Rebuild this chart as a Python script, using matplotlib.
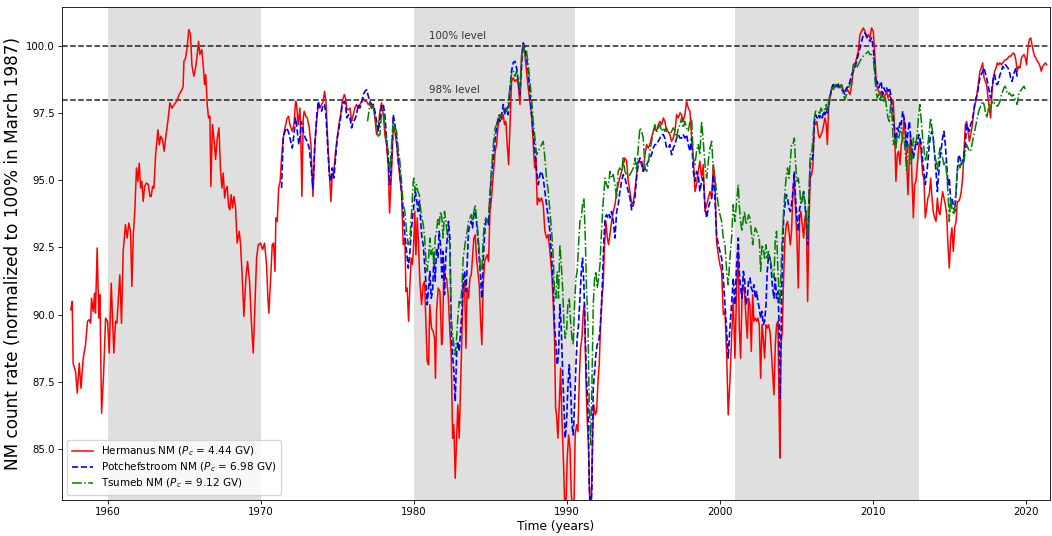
import numpy as np
import matplotlib
matplotlib.use("Agg")
import matplotlib.pyplot as plt

# === Neutron monitor count rates, normalised to 100% in March 1987 ===
# (year, percent)

hermanus = [
    (1957.58, 90.18), (1957.67, 90.49), (1957.73, 88.19), (1957.89, 87.88), (1958.00, 87.08),
    (1958.13, 88.19), (1958.24, 87.26), (1958.39, 88.38), (1958.54, 88.88), (1958.67, 89.75),
    (1958.78, 89.81), (1958.87, 89.68), (1958.93, 90.61), (1959.04, 90.12), (1959.13, 90.80),
    (1959.19, 90.06), (1959.30, 92.48), (1959.41, 89.87), (1959.48, 90.74), (1959.59, 86.33),
    (1959.72, 87.76), (1959.85, 89.87), (1959.98, 89.75), (1960.09, 88.57), (1960.22, 91.17),
    (1960.39, 88.57), (1960.50, 89.75), (1960.59, 89.68), (1960.70, 90.74), (1960.78, 91.48),
    (1960.89, 89.68), (1961.00, 92.35), (1961.15, 93.35), (1961.26, 92.85), (1961.37, 93.41),
    (1961.48, 93.10), (1961.57, 91.05), (1961.66, 92.97), (1961.76, 93.84), (1961.87, 95.46),
    (1961.96, 94.96), (1962.05, 95.64), (1962.14, 94.71), (1962.22, 94.96), (1962.31, 94.21),
    (1962.40, 94.77), (1962.53, 94.90), (1962.64, 94.84), (1962.75, 94.40), (1962.83, 94.40),
    (1962.92, 94.77), (1963.01, 94.71), (1963.12, 95.95), (1963.27, 96.88), (1963.36, 96.32),
    (1963.46, 96.64), (1963.57, 96.51), (1963.68, 96.08), (1963.79, 96.64), (1963.92, 97.19),
    (1964.05, 97.88), (1964.18, 97.68), (1964.34, 97.82), (1964.49, 97.94), (1964.66, 98.19),
    (1964.84, 98.37), (1964.92, 98.50), (1964.97, 99.43), (1965.08, 99.55), (1965.19, 99.99),
    (1965.29, 100.61), (1965.40, 100.42), (1965.49, 99.30), (1965.62, 98.87), (1965.75, 99.24),
    (1965.93, 100.17), (1966.01, 99.68), (1966.14, 99.86), (1966.23, 99.30), (1966.32, 98.56),
    (1966.40, 98.93), (1966.49, 97.82), (1966.58, 97.32), (1966.67, 97.38), (1966.73, 94.77),
    (1966.84, 97.07), (1966.95, 96.45), (1967.04, 95.77), (1967.15, 96.57), (1967.26, 96.95),
    (1967.36, 95.39), (1967.45, 94.71), (1967.54, 95.27), (1967.63, 94.34), (1967.71, 94.65),
    (1967.80, 94.77), (1967.89, 94.03), (1967.97, 93.90), (1968.06, 94.46), (1968.15, 93.97),
    (1968.24, 94.40), (1968.34, 94.03), (1968.45, 92.66), (1968.59, 93.10), (1968.67, 92.60),
    (1968.78, 91.42), (1968.89, 89.93), (1969.02, 91.36), (1969.13, 91.98), (1969.26, 91.24),
    (1969.39, 89.62), (1969.50, 88.57), (1969.61, 90.37), (1969.72, 92.11), (1969.83, 92.60),
    (1969.98, 92.66), (1970.11, 92.42), (1970.24, 92.66), (1970.37, 91.86), (1970.46, 90.61),
    (1970.52, 90.06), (1970.63, 91.24), (1970.74, 92.60), (1970.83, 92.66), (1970.92, 91.61),
    (1970.98, 93.60), (1971.07, 93.47), (1971.16, 94.71), (1971.26, 94.96), (1971.35, 95.83),
    (1971.46, 96.57), (1971.57, 96.95), (1971.72, 97.32), (1971.81, 97.38), (1971.90, 97.07),
    (1972.05, 96.82), (1972.16, 97.07), (1972.27, 97.94), (1972.33, 97.82), (1972.44, 97.07),
    (1972.55, 97.69), (1972.61, 96.57), (1972.68, 94.40), (1972.77, 97.32), (1972.83, 97.57),
    (1972.94, 97.38), (1973.03, 97.32), (1973.16, 96.95), (1973.27, 96.33), (1973.40, 94.40),
    (1973.53, 96.33), (1973.64, 97.19), (1973.75, 97.82), (1973.86, 97.69), (1973.97, 97.82),
    (1974.07, 97.94), (1974.16, 98.31), (1974.25, 97.94), (1974.36, 96.57), (1974.47, 95.33),
    (1974.58, 94.21), (1974.66, 95.21), (1974.77, 95.33), (1974.88, 96.08), (1974.99, 96.57),
    (1975.10, 97.07), (1975.21, 97.44), (1975.32, 97.94), (1975.45, 98.19), (1975.53, 98.06),
    (1975.62, 97.63), (1975.73, 97.63), (1975.82, 97.69), (1975.93, 97.19), (1976.04, 97.44),
    (1976.14, 97.69), (1976.25, 97.82), (1976.36, 97.69), (1976.47, 97.82), (1976.58, 97.94),
    (1976.69, 98.06), (1976.80, 97.94), (1976.91, 97.94), (1977.02, 97.82), (1977.12, 97.88),
    (1977.23, 97.69), (1977.34, 97.82), (1977.45, 97.32), (1977.56, 96.70), (1977.67, 96.95),
    (1977.78, 97.57), (1977.89, 97.88), (1978.00, 97.44), (1978.10, 96.70), (1978.21, 96.33),
    (1978.32, 95.58), (1978.41, 93.78), (1978.54, 95.33), (1978.65, 96.95), (1978.76, 96.82),
    (1978.87, 96.33), (1978.97, 95.83), (1979.08, 95.08), (1979.19, 94.58), (1979.30, 92.60),
    (1979.41, 92.85), (1979.48, 90.86), (1979.56, 90.99), (1979.65, 89.75), (1979.74, 91.11),
    (1979.82, 92.10), (1979.91, 91.86), (1980.00, 92.85), (1980.06, 93.84), (1980.13, 92.23),
    (1980.22, 93.60), (1980.30, 92.60), (1980.39, 91.24), (1980.50, 90.37), (1980.61, 91.11),
    (1980.70, 91.24), (1980.78, 89.75), (1980.87, 88.26), (1980.96, 88.13), (1981.04, 90.37),
    (1981.15, 89.50), (1981.26, 89.37), (1981.35, 89.12), (1981.41, 87.63), (1981.48, 90.12),
    (1981.59, 90.99), (1981.70, 90.86), (1981.81, 88.88), (1981.87, 89.12), (1981.96, 91.86),
    (1982.05, 91.36), (1982.13, 91.36), (1982.24, 90.74), (1982.35, 89.37), (1982.44, 88.50),
    (1982.53, 85.40), (1982.61, 85.90), (1982.70, 83.91), (1982.79, 85.40), (1982.87, 86.64),
    (1982.96, 85.40), (1983.05, 87.38), (1983.14, 89.50), (1983.22, 90.99), (1983.31, 91.24),
    (1983.40, 88.75), (1983.48, 90.99), (1983.57, 90.61), (1983.66, 91.36), (1983.75, 91.48),
    (1983.83, 92.10), (1983.92, 92.85), (1984.01, 92.97), (1984.09, 92.10), (1984.18, 91.61),
    (1984.27, 91.11), (1984.36, 89.75), (1984.44, 88.88), (1984.53, 91.11), (1984.62, 91.98),
    (1984.70, 92.10), (1984.79, 92.23), (1984.88, 91.98), (1984.97, 93.84), (1985.05, 94.21),
    (1985.14, 94.84), (1985.23, 95.46), (1985.31, 96.08), (1985.40, 96.33), (1985.49, 96.95),
    (1985.58, 97.32), (1985.66, 97.44), (1985.75, 97.26), (1985.84, 97.44), (1985.92, 97.07),
    (1986.01, 97.19), (1986.10, 96.33), (1986.19, 95.58), (1986.38, 98.68), (1986.49, 98.81),
    (1986.60, 98.68), (1986.71, 98.75), (1986.82, 98.56), (1986.93, 97.82), (1987.04, 99.68),
    (1987.15, 100.11), (1987.25, 99.68), (1987.36, 99.06), (1987.47, 98.44), (1987.58, 97.94),
    (1987.69, 97.44), (1987.80, 96.33), (1987.89, 95.46), (1987.97, 95.83), (1988.06, 94.09),
    (1988.15, 94.34), (1988.23, 94.21), (1988.34, 94.34), (1988.45, 94.09), (1988.56, 93.10),
    (1988.67, 92.85), (1988.78, 92.97), (1988.89, 92.35), (1989.00, 91.61), (1989.11, 90.37),
    (1989.19, 89.12), (1989.26, 86.52), (1989.32, 86.27), (1989.41, 85.40), (1989.50, 86.64),
    (1989.59, 88.01), (1989.67, 86.15), (1989.76, 84.78), (1989.85, 83.04), (1989.93, 82.70),
    (1990.02, 84.66), (1990.11, 85.52), (1990.20, 85.03), (1990.28, 83.41), (1990.37, 82.70),
    (1990.46, 82.70), (1990.54, 85.52), (1990.63, 85.90), (1990.72, 85.65), (1990.81, 87.63),
    (1990.89, 88.75), (1990.98, 89.12), (1991.07, 90.12), (1991.15, 90.37), (1991.24, 87.63),
    (1991.33, 86.02), (1991.41, 85.15), (1991.50, 82.70), (1991.59, 82.70), (1991.68, 85.65),
    (1991.76, 86.64), (1991.85, 86.27), (1991.94, 86.40), (1992.03, 87.51), (1992.11, 88.13),
    (1992.20, 89.62), (1992.29, 90.61), (1992.37, 91.11), (1992.46, 92.60), (1992.55, 93.47),
    (1992.64, 92.85), (1992.72, 92.60), (1992.81, 92.97), (1992.92, 93.47), (1993.03, 93.84),
    (1993.14, 94.09), (1993.25, 94.58), (1993.35, 94.84), (1993.46, 95.08), (1993.57, 95.33),
    (1993.68, 95.58), (1993.79, 95.83), (1993.90, 95.71), (1994.01, 94.96), (1994.12, 94.58),
    (1994.23, 94.09), (1994.34, 94.21), (1994.44, 94.58), (1994.55, 95.21), (1994.66, 95.71),
    (1994.77, 95.71), (1994.88, 95.58), (1994.99, 95.33), (1995.10, 95.95), (1995.21, 96.33),
    (1995.32, 96.20), (1995.42, 96.33), (1995.53, 96.57), (1995.64, 96.82), (1995.75, 96.95),
    (1995.86, 96.82), (1995.97, 97.07), (1996.08, 97.19), (1996.19, 97.07), (1996.30, 97.32),
    (1996.40, 97.19), (1996.51, 96.82), (1996.62, 96.82), (1996.73, 96.70), (1996.84, 96.45),
    (1996.95, 96.57), (1997.06, 96.82), (1997.17, 97.44), (1997.28, 97.32), (1997.39, 97.51),
    (1997.49, 97.44), (1997.60, 97.19), (1997.71, 97.44), (1997.82, 97.94), (1997.93, 97.69),
    (1998.04, 97.57), (1998.15, 96.57), (1998.26, 95.83), (1998.37, 94.58), (1998.47, 94.84),
    (1998.58, 95.33), (1998.69, 95.71), (1998.80, 95.08), (1998.91, 95.58), (1999.02, 93.84),
    (1999.13, 94.09), (1999.24, 94.34), (1999.35, 94.58), (1999.46, 94.34), (1999.57, 95.58),
    (1999.67, 95.08), (1999.78, 92.72), (1999.89, 92.23), (2000.00, 91.86), (2000.11, 91.61),
    (2000.22, 90.00), (2000.33, 90.12), (2000.44, 88.50), (2000.54, 86.27), (2000.65, 87.51),
    (2000.76, 89.12), (2000.87, 90.61), (2000.98, 88.38), (2001.09, 90.99), (2001.20, 92.35),
    (2001.26, 89.62), (2001.35, 88.38), (2001.44, 90.61), (2001.53, 91.11), (2001.61, 90.86),
    (2001.70, 89.87), (2001.79, 89.12), (2001.87, 90.61), (2001.96, 90.37), (2002.05, 88.63),
    (2002.14, 90.74), (2002.22, 89.75), (2002.31, 89.87), (2002.40, 89.75), (2002.48, 89.87),
    (2002.57, 89.62), (2002.66, 87.63), (2002.75, 89.62), (2002.83, 89.12), (2002.92, 88.38),
    (2003.01, 89.62), (2003.09, 89.50), (2003.18, 89.62), (2003.27, 89.37), (2003.36, 88.63),
    (2003.44, 87.88), (2003.53, 87.01), (2003.62, 88.88), (2003.70, 89.62), (2003.79, 89.75),
    (2003.86, 86.64), (2003.92, 84.66), (2003.99, 88.88), (2004.07, 89.37), (2004.16, 91.36),
    (2004.25, 92.85), (2004.34, 93.35), (2004.42, 93.47), (2004.51, 93.10), (2004.60, 92.60),
    (2004.68, 93.10), (2004.77, 94.58), (2004.86, 95.08), (2004.95, 93.84), (2005.03, 92.85),
    (2005.12, 90.99), (2005.21, 93.60), (2005.29, 93.84), (2005.38, 93.35), (2005.47, 92.85),
    (2005.56, 93.60), (2005.64, 93.84), (2005.73, 90.49), (2005.82, 93.47), (2005.90, 95.08),
    (2005.99, 95.21), (2006.08, 95.58), (2006.17, 97.19), (2006.25, 97.07), (2006.34, 97.19),
    (2006.43, 96.70), (2006.51, 96.57), (2006.60, 96.70), (2006.69, 96.82), (2006.78, 97.07),
    (2006.86, 97.32), (2006.95, 97.07), (2007.02, 96.33), (2007.10, 97.69), (2007.19, 98.06),
    (2007.30, 98.44), (2007.41, 98.56), (2007.52, 98.44), (2007.63, 98.56), (2007.73, 98.44),
    (2007.84, 98.50), (2007.95, 98.56), (2008.06, 98.37), (2008.17, 98.31), (2008.28, 98.44),
    (2008.39, 98.31), (2008.50, 98.19), (2008.61, 98.56), (2008.71, 99.06), (2008.82, 99.30),
    (2008.93, 99.55), (2009.04, 99.80), (2009.15, 100.42), (2009.26, 100.55), (2009.37, 100.67),
    (2009.48, 100.55), (2009.59, 100.30), (2009.70, 100.42), (2009.80, 100.30), (2009.91, 100.67),
    (2010.02, 100.55), (2010.11, 99.80), (2010.20, 98.81), (2010.28, 98.44), (2010.37, 98.31),
    (2010.46, 98.19), (2010.54, 98.31), (2010.63, 98.19), (2010.72, 98.06), (2010.81, 98.19),
    (2010.89, 98.31), (2010.98, 98.06), (2011.07, 98.19), (2011.16, 98.06), (2011.24, 97.82),
    (2011.33, 97.94), (2011.42, 96.70), (2011.50, 94.96), (2011.59, 95.95), (2011.68, 96.08),
    (2011.77, 95.58), (2011.85, 96.33), (2011.94, 96.57), (2012.03, 97.32), (2012.11, 96.70),
    (2012.20, 95.71), (2012.29, 94.46), (2012.38, 95.95), (2012.46, 96.70), (2012.55, 95.08),
    (2012.64, 93.60), (2012.72, 94.84), (2012.81, 94.96), (2012.90, 95.58), (2012.99, 96.20),
    (2013.07, 96.57), (2013.16, 95.95), (2013.25, 95.21), (2013.33, 95.08), (2013.42, 93.60),
    (2013.51, 93.97), (2013.59, 94.34), (2013.68, 94.46), (2013.77, 95.08), (2013.86, 94.34),
    (2013.94, 93.84), (2014.03, 93.60), (2014.12, 93.47), (2014.21, 94.34), (2014.29, 93.84),
    (2014.38, 93.72), (2014.47, 94.21), (2014.55, 94.58), (2014.64, 94.34), (2014.73, 94.09),
    (2014.82, 93.72), (2014.90, 92.60), (2014.99, 91.73), (2015.08, 92.85), (2015.16, 93.23),
    (2015.25, 92.35), (2015.34, 93.23), (2015.43, 93.47), (2015.51, 94.21), (2015.60, 94.21),
    (2015.69, 94.34), (2015.77, 94.58), (2015.86, 95.08), (2015.95, 96.08), (2016.04, 97.07),
    (2016.12, 97.19), (2016.21, 96.82), (2016.30, 96.45), (2016.38, 96.70), (2016.47, 96.95),
    (2016.56, 97.44), (2016.65, 97.82), (2016.73, 97.94), (2016.82, 98.31), (2016.91, 98.68),
    (2016.99, 99.06), (2017.08, 99.18), (2017.17, 99.37), (2017.26, 98.81), (2017.34, 98.68),
    (2017.43, 98.56), (2017.52, 98.06), (2017.60, 97.69), (2017.69, 97.32), (2017.78, 98.31),
    (2017.87, 98.81), (2017.95, 99.06), (2018.04, 99.18), (2018.13, 99.37), (2018.21, 99.30),
    (2018.30, 99.37), (2018.39, 99.30), (2018.48, 99.37), (2018.56, 99.43), (2018.65, 99.49),
    (2018.74, 99.49), (2018.82, 99.55), (2018.91, 99.62), (2019.00, 99.62), (2019.09, 99.68),
    (2019.17, 99.74), (2019.26, 99.68), (2019.35, 99.43), (2019.43, 99.06), (2019.52, 99.24),
    (2019.61, 99.18), (2019.70, 99.55), (2019.78, 99.62), (2019.87, 99.68), (2019.96, 99.55),
    (2020.04, 99.30), (2020.13, 99.93), (2020.22, 100.24), (2020.31, 100.30), (2020.39, 100.05),
    (2020.48, 99.80), (2020.57, 99.62), (2020.65, 99.55), (2020.74, 99.43), (2020.83, 99.37),
    (2020.92, 99.24), (2021.00, 99.06), (2021.09, 99.24), (2021.18, 99.30), (2021.26, 99.37),
    (2021.35, 99.30),
]

potchefstroom = [
    (1971.35, 94.71), (1971.46, 96.57), (1971.57, 96.82), (1971.68, 96.95), (1971.79, 96.82),
    (1971.90, 96.57), (1972.05, 96.20), (1972.16, 96.70), (1972.27, 97.32), (1972.38, 96.82),
    (1972.48, 96.33), (1972.55, 96.57), (1972.64, 97.19), (1972.77, 96.82), (1972.90, 96.57),
    (1973.03, 96.45), (1973.16, 96.20), (1973.29, 95.46), (1973.40, 94.71), (1973.51, 96.20),
    (1973.64, 97.32), (1973.75, 97.94), (1973.86, 97.69), (1973.97, 97.57), (1974.07, 97.82),
    (1974.16, 97.82), (1974.25, 97.44), (1974.36, 96.33), (1974.47, 95.21), (1974.58, 94.96),
    (1974.66, 95.46), (1974.77, 95.08), (1974.88, 95.83), (1974.99, 96.57), (1975.10, 96.95),
    (1975.21, 97.32), (1975.32, 97.82), (1975.45, 97.94), (1975.53, 97.82), (1975.62, 97.32),
    (1975.73, 97.44), (1975.82, 97.32), (1975.93, 96.95), (1976.04, 97.19), (1976.14, 97.26),
    (1976.25, 97.44), (1976.36, 97.82), (1976.47, 97.69), (1976.58, 97.88), (1976.69, 98.19),
    (1976.80, 98.31), (1976.91, 98.37), (1977.02, 98.13), (1977.12, 97.94), (1977.23, 97.82),
    (1977.34, 97.82), (1977.45, 97.57), (1977.56, 97.19), (1977.67, 96.82), (1977.78, 97.26),
    (1977.89, 97.82), (1978.00, 97.82), (1978.10, 97.44), (1978.21, 96.57), (1978.32, 95.70),
    (1978.43, 94.84), (1978.54, 95.70), (1978.65, 97.44), (1978.76, 97.07), (1978.87, 96.57),
    (1978.97, 95.70), (1979.08, 95.33), (1979.19, 94.58), (1979.30, 93.84), (1979.41, 92.97),
    (1979.52, 92.35), (1979.63, 91.73), (1979.74, 92.35), (1979.82, 93.10), (1979.91, 93.60),
    (1980.00, 94.09), (1980.09, 94.58), (1980.17, 94.34), (1980.26, 93.84), (1980.35, 94.21),
    (1980.43, 93.60), (1980.52, 92.85), (1980.61, 92.60), (1980.70, 91.86), (1980.78, 91.24),
    (1980.87, 90.37), (1980.96, 90.99), (1981.04, 91.61), (1981.13, 90.61), (1981.22, 90.86),
    (1981.31, 92.23), (1981.39, 91.24), (1981.48, 92.48), (1981.57, 92.10), (1981.65, 93.10),
    (1981.74, 92.60), (1981.83, 91.36), (1981.91, 92.35), (1982.00, 90.74), (1982.09, 92.23),
    (1982.18, 92.85), (1982.26, 93.47), (1982.35, 92.85), (1982.44, 89.37), (1982.53, 88.50),
    (1982.61, 87.88), (1982.70, 86.77), (1982.79, 88.50), (1982.87, 89.00), (1982.96, 88.63),
    (1983.05, 89.37), (1983.14, 90.12), (1983.22, 91.24), (1983.31, 91.61), (1983.40, 90.86),
    (1983.48, 91.86), (1983.57, 93.10), (1983.66, 93.35), (1983.75, 93.47), (1983.83, 93.23),
    (1983.92, 93.72), (1984.01, 93.84), (1984.09, 93.47), (1984.18, 92.85), (1984.27, 92.10),
    (1984.36, 91.36), (1984.44, 90.61), (1984.53, 91.98), (1984.62, 92.97), (1984.70, 93.47),
    (1984.79, 93.60), (1984.88, 93.35), (1984.97, 94.34), (1985.05, 95.08), (1985.14, 95.58),
    (1985.23, 96.08), (1985.31, 96.57), (1985.40, 96.95), (1985.49, 97.26), (1985.58, 97.38),
    (1985.62, 97.19), (1985.73, 97.44), (1985.84, 97.82), (1985.95, 97.44), (1986.06, 97.69),
    (1986.16, 97.44), (1986.27, 98.31), (1986.38, 99.06), (1986.49, 99.37), (1986.60, 99.43),
    (1986.71, 99.18), (1986.82, 98.68), (1986.93, 98.19), (1987.04, 99.30), (1987.15, 100.11),
    (1987.25, 99.93), (1987.36, 99.55), (1987.47, 99.06), (1987.58, 98.19), (1987.69, 97.44),
    (1987.80, 96.82), (1987.91, 96.08), (1988.02, 95.33), (1988.13, 94.84), (1988.23, 95.21),
    (1988.34, 95.33), (1988.45, 95.08), (1988.56, 94.58), (1988.67, 94.09), (1988.78, 93.60),
    (1988.89, 93.10), (1989.00, 92.10), (1989.11, 90.99), (1989.19, 89.62), (1989.28, 88.88),
    (1989.37, 88.13), (1989.45, 88.50), (1989.54, 90.37), (1989.63, 89.50), (1989.72, 87.88),
    (1989.80, 86.64), (1989.89, 85.40), (1989.98, 86.02), (1990.06, 87.26), (1990.15, 88.13),
    (1990.24, 87.26), (1990.33, 85.90), (1990.41, 85.52), (1990.50, 86.64), (1990.59, 88.13),
    (1990.67, 89.12), (1990.76, 89.62), (1990.85, 90.61), (1990.94, 91.61), (1991.02, 92.10),
    (1991.11, 91.11), (1991.20, 89.12), (1991.28, 87.63), (1991.37, 86.64), (1991.46, 83.66),
    (1991.55, 82.70), (1991.63, 83.54), (1991.72, 87.26), (1991.81, 87.88), (1991.89, 88.50),
    (1991.98, 88.88), (1992.07, 89.00), (1992.16, 89.37), (1992.24, 90.12), (1992.33, 91.36),
    (1992.42, 92.85), (1992.50, 93.60), (1992.59, 93.72), (1992.68, 93.60), (1992.77, 93.72),
    (1992.81, 93.60), (1992.92, 93.84), (1993.03, 93.47), (1993.14, 92.85), (1993.25, 93.84),
    (1993.35, 94.09), (1993.46, 94.58), (1993.57, 94.96), (1993.68, 95.21), (1993.79, 95.08),
    (1993.90, 94.84), (1994.01, 94.58), (1994.12, 94.34), (1994.23, 93.90), (1994.34, 94.09),
    (1994.44, 94.34), (1994.55, 95.08), (1994.66, 95.58), (1994.77, 95.83), (1994.88, 95.70),
    (1994.99, 95.33), (1995.10, 95.46), (1995.21, 95.58), (1995.32, 95.70), (1995.42, 95.83),
    (1995.53, 95.95), (1995.64, 96.20), (1995.75, 96.33), (1995.86, 96.33), (1995.97, 96.45),
    (1996.08, 96.57), (1996.19, 96.70), (1996.30, 96.70), (1996.40, 96.57), (1996.51, 96.20),
    (1996.62, 96.20), (1996.73, 96.33), (1996.84, 95.95), (1996.95, 96.20), (1997.06, 96.33),
    (1997.17, 96.57), (1997.28, 96.70), (1997.39, 96.57), (1997.49, 96.57), (1997.60, 96.70),
    (1997.71, 96.57), (1997.82, 96.70), (1997.93, 96.33), (1998.04, 96.08), (1998.15, 96.57),
    (1998.26, 95.33), (1998.37, 94.96), (1998.47, 95.33), (1998.58, 95.21), (1998.69, 94.58),
    (1998.80, 94.96), (1998.91, 95.08), (1999.02, 94.09), (1999.13, 93.60), (1999.24, 93.97),
    (1999.35, 94.21), (1999.46, 94.34), (1999.57, 95.21), (1999.67, 94.34), (1999.78, 92.97),
    (1999.89, 92.60), (2000.00, 92.35), (2000.11, 92.10), (2000.22, 91.36), (2000.33, 90.37),
    (2000.44, 89.37), (2000.54, 88.38), (2000.65, 89.50), (2000.76, 90.37), (2000.87, 91.36),
    (2000.98, 90.37), (2001.09, 91.86), (2001.20, 92.85), (2001.26, 91.61), (2001.35, 90.99),
    (2001.44, 90.61), (2001.53, 91.61), (2001.61, 91.36), (2001.70, 90.37), (2001.79, 90.61),
    (2001.87, 91.24), (2001.96, 91.36), (2002.05, 90.99), (2002.14, 90.86), (2002.22, 91.11),
    (2002.31, 90.61), (2002.40, 90.86), (2002.48, 90.49), (2002.57, 90.24), (2002.66, 89.87),
    (2002.75, 90.12), (2002.83, 89.62), (2002.92, 89.75), (2003.01, 90.37), (2003.09, 91.61),
    (2003.18, 92.23), (2003.27, 92.10), (2003.36, 91.61), (2003.44, 90.99), (2003.53, 90.61),
    (2003.62, 91.36), (2003.70, 90.61), (2003.79, 90.86), (2003.86, 89.75), (2003.92, 86.89),
    (2003.99, 89.12), (2004.07, 91.86), (2004.16, 93.60), (2004.25, 94.09), (2004.34, 94.46),
    (2004.42, 94.34), (2004.51, 93.97), (2004.60, 93.84), (2004.68, 94.09), (2004.77, 94.58),
    (2004.86, 95.33), (2004.95, 94.21), (2005.03, 93.60), (2005.12, 93.10), (2005.21, 93.97),
    (2005.29, 94.09), (2005.38, 94.34), (2005.47, 94.58), (2005.56, 94.09), (2005.64, 93.47),
    (2005.73, 92.60), (2005.82, 94.34), (2005.90, 95.58), (2005.99, 95.70), (2006.08, 95.95),
    (2006.17, 97.19), (2006.25, 97.44), (2006.34, 97.32), (2006.43, 97.44), (2006.51, 97.32),
    (2006.60, 97.44), (2006.69, 97.32), (2006.78, 97.57), (2006.86, 97.44), (2006.95, 97.69),
    (2007.02, 97.44), (2007.10, 97.82), (2007.19, 98.06), (2007.30, 98.44), (2007.41, 98.56),
    (2007.52, 98.44), (2007.63, 98.50), (2007.73, 98.56), (2007.84, 98.44), (2007.95, 98.37),
    (2008.06, 98.31), (2008.17, 98.19), (2008.28, 98.44), (2008.39, 98.50), (2008.50, 98.68),
    (2008.61, 98.93), (2008.71, 99.06), (2008.82, 99.18), (2008.93, 99.43), (2009.04, 99.68),
    (2009.15, 99.93), (2009.26, 100.17), (2009.37, 100.42), (2009.48, 100.48), (2009.59, 100.36),
    (2009.70, 100.30), (2009.80, 100.17), (2009.91, 100.30), (2010.02, 99.93), (2010.11, 99.30),
    (2010.20, 98.56), (2010.28, 98.68), (2010.37, 98.44), (2010.46, 98.56), (2010.54, 98.68),
    (2010.63, 98.19), (2010.72, 98.44), (2010.81, 98.31), (2010.89, 98.44), (2010.98, 98.31),
    (2011.07, 98.44), (2011.16, 98.19), (2011.24, 97.69), (2011.33, 97.32), (2011.42, 96.82),
    (2011.50, 96.33), (2011.59, 96.95), (2011.68, 96.82), (2011.77, 97.19), (2011.85, 97.07),
    (2011.94, 97.57), (2012.03, 97.32), (2012.11, 97.07), (2012.20, 96.20), (2012.29, 96.82),
    (2012.38, 97.19), (2012.46, 96.57), (2012.55, 96.20), (2012.64, 95.83), (2012.72, 96.08),
    (2012.81, 96.45), (2012.90, 96.33), (2012.99, 96.70), (2013.07, 96.57), (2013.16, 96.33),
    (2013.25, 95.70), (2013.33, 95.33), (2013.42, 94.84), (2013.51, 95.21), (2013.59, 95.70),
    (2013.68, 96.33), (2013.77, 96.70), (2013.86, 96.82), (2013.94, 96.57), (2014.03, 95.95),
    (2014.12, 95.33), (2014.21, 94.58), (2014.29, 95.21), (2014.38, 95.83), (2014.47, 96.20),
    (2014.55, 96.57), (2014.64, 96.82), (2014.73, 96.33), (2014.82, 95.58), (2014.90, 94.84),
    (2014.99, 95.08), (2015.08, 94.21), (2015.16, 94.34), (2015.25, 94.09), (2015.34, 93.84),
    (2015.43, 94.58), (2015.51, 95.33), (2015.60, 95.95), (2015.69, 95.83), (2015.77, 95.58),
    (2015.86, 95.70), (2015.95, 95.95), (2016.04, 96.33), (2016.12, 97.07), (2016.21, 96.95),
    (2016.30, 96.82), (2016.38, 97.07), (2016.47, 97.19), (2016.56, 97.44), (2016.65, 97.82),
    (2016.73, 98.06), (2016.82, 98.19), (2016.91, 98.56), (2016.99, 98.81), (2017.08, 98.93),
    (2017.17, 99.06), (2017.26, 99.18), (2017.34, 99.00), (2017.43, 98.81), (2017.52, 98.56),
    (2017.60, 98.31), (2017.69, 98.06), (2017.78, 98.44), (2017.87, 98.81), (2017.95, 98.93),
    (2018.04, 98.62), (2018.13, 98.56), (2018.21, 98.68), (2018.30, 98.93), (2018.39, 99.06),
    (2018.48, 99.24), (2018.56, 99.18), (2018.65, 99.30), (2018.74, 99.24), (2018.82, 99.18),
    (2018.91, 99.06), (2019.00, 98.81), (2019.09, 98.68), (2019.17, 98.87), (2019.26, 99.06),
    (2019.35, 99.18), (2019.43, 98.81),
]

tsumeb = [
    (1976.97, 97.19), (1977.12, 97.82), (1977.23, 97.69), (1977.34, 97.69), (1977.45, 97.44),
    (1977.56, 96.95), (1977.67, 96.64), (1977.78, 96.70), (1977.89, 97.57), (1978.00, 97.57),
    (1978.10, 97.07), (1978.21, 96.45), (1978.32, 96.08), (1978.43, 95.33), (1978.54, 96.33),
    (1978.65, 97.19), (1978.76, 96.95), (1978.87, 96.82), (1978.97, 96.20), (1979.08, 95.71),
    (1979.19, 94.96), (1979.30, 94.09), (1979.41, 93.84), (1979.52, 93.10), (1979.63, 92.60),
    (1979.74, 92.85), (1979.85, 93.84), (1979.96, 94.96), (1980.00, 95.08), (1980.09, 94.58),
    (1980.17, 94.84), (1980.26, 94.58), (1980.35, 94.46), (1980.43, 93.97), (1980.52, 93.60),
    (1980.61, 93.35), (1980.70, 92.85), (1980.78, 92.10), (1980.87, 91.61), (1980.96, 92.10),
    (1981.04, 92.85), (1981.13, 92.23), (1981.22, 92.48), (1981.31, 91.86), (1981.39, 92.85),
    (1981.48, 93.10), (1981.57, 93.60), (1981.65, 93.35), (1981.74, 93.84), (1981.83, 93.60),
    (1981.91, 92.85), (1982.00, 93.84), (1982.09, 93.47), (1982.18, 92.97), (1982.26, 92.85),
    (1982.35, 92.60), (1982.44, 89.87), (1982.53, 89.26), (1982.61, 88.88), (1982.70, 88.50),
    (1982.79, 89.12), (1982.87, 89.87), (1982.96, 90.49), (1983.05, 90.37), (1983.14, 90.99),
    (1983.22, 92.10), (1983.31, 92.48), (1983.40, 92.85), (1983.48, 93.10), (1983.57, 93.47),
    (1983.66, 93.60), (1983.75, 93.72), (1983.83, 93.47), (1983.92, 93.84), (1984.01, 94.09),
    (1984.09, 93.60), (1984.18, 93.10), (1984.27, 92.35), (1984.36, 91.61), (1984.44, 91.73),
    (1984.53, 92.85), (1984.62, 93.47), (1984.70, 93.60), (1984.79, 93.47), (1984.88, 93.60),
    (1984.97, 94.58), (1985.05, 95.21), (1985.14, 95.95), (1985.23, 96.57), (1985.31, 96.95),
    (1985.40, 97.07), (1985.49, 97.32), (1985.58, 97.44), (1985.62, 97.32), (1985.73, 97.44),
    (1985.84, 97.44), (1985.95, 97.69), (1986.06, 97.57), (1986.16, 97.82), (1986.27, 98.44),
    (1986.38, 98.93), (1986.49, 99.06), (1986.60, 98.87), (1986.71, 99.06), (1986.82, 98.68),
    (1986.93, 98.44), (1987.04, 99.55), (1987.15, 100.05), (1987.25, 99.68), (1987.36, 99.80),
    (1987.47, 99.30), (1987.58, 98.68), (1987.69, 98.06), (1987.80, 97.19), (1987.91, 96.57),
    (1988.02, 95.95), (1988.13, 96.08), (1988.23, 96.20), (1988.34, 96.33), (1988.45, 96.45),
    (1988.56, 95.83), (1988.67, 95.08), (1988.78, 94.58), (1988.89, 93.84), (1989.00, 93.10),
    (1989.11, 92.10), (1989.19, 90.86), (1989.28, 90.61), (1989.37, 91.61), (1989.45, 90.61),
    (1989.54, 92.60), (1989.63, 91.86), (1989.72, 90.99), (1989.80, 89.75), (1989.89, 89.12),
    (1989.98, 89.37), (1990.06, 90.37), (1990.15, 90.61), (1990.24, 89.75), (1990.33, 89.12),
    (1990.41, 88.88), (1990.50, 90.37), (1990.59, 91.36), (1990.67, 91.61), (1990.76, 92.60),
    (1990.85, 93.47), (1990.94, 93.60), (1991.02, 94.09), (1991.11, 94.34), (1991.20, 92.85),
    (1991.28, 90.99), (1991.37, 89.75), (1991.46, 86.64), (1991.55, 85.15), (1991.63, 87.26),
    (1991.72, 90.37), (1991.81, 91.36), (1991.89, 91.61), (1991.98, 90.99), (1992.07, 91.36),
    (1992.16, 91.86), (1992.24, 92.85), (1992.33, 93.84), (1992.42, 94.58), (1992.50, 95.08),
    (1992.59, 94.84), (1992.68, 94.71), (1992.77, 95.08), (1992.81, 95.33), (1992.92, 95.08),
    (1993.03, 95.21), (1993.14, 94.84), (1993.25, 94.34), (1993.35, 95.33), (1993.46, 95.46),
    (1993.57, 95.33), (1993.68, 95.83), (1993.79, 95.33), (1993.90, 95.21), (1994.01, 95.08),
    (1994.12, 95.21), (1994.23, 95.33), (1994.34, 95.46), (1994.44, 95.83), (1994.55, 95.33),
    (1994.66, 96.20), (1994.77, 96.95), (1994.88, 96.82), (1994.99, 96.57), (1995.10, 95.46),
    (1995.21, 95.33), (1995.32, 95.71), (1995.42, 96.08), (1995.53, 96.45), (1995.64, 96.82),
    (1995.75, 97.07), (1995.86, 96.82), (1995.97, 96.95), (1996.08, 97.07), (1996.19, 96.82),
    (1996.30, 96.95), (1996.40, 96.82), (1996.51, 96.95), (1996.62, 96.82), (1996.73, 96.70),
    (1996.84, 96.82), (1996.95, 96.95), (1997.06, 96.82), (1997.17, 96.57), (1997.28, 96.95),
    (1997.39, 97.07), (1997.49, 97.32), (1997.60, 96.95), (1997.71, 97.19), (1997.82, 96.95),
    (1997.93, 96.82), (1998.04, 97.19), (1998.15, 97.32), (1998.26, 95.83), (1998.37, 95.58),
    (1998.47, 96.08), (1998.58, 96.33), (1998.69, 95.95), (1998.80, 97.19), (1998.91, 96.45),
    (1999.02, 95.58), (1999.13, 95.08), (1999.24, 95.71), (1999.35, 96.20), (1999.46, 96.45),
    (1999.57, 95.33), (1999.67, 95.08), (1999.78, 94.58), (1999.89, 94.09), (2000.00, 93.72),
    (2000.11, 93.47), (2000.22, 92.85), (2000.33, 92.60), (2000.44, 91.61), (2000.54, 91.11),
    (2000.65, 92.10), (2000.76, 92.85), (2000.87, 94.09), (2000.98, 93.47), (2001.09, 94.21),
    (2001.20, 94.84), (2001.26, 94.09), (2001.35, 93.47), (2001.44, 93.10), (2001.53, 93.60),
    (2001.61, 93.84), (2001.70, 93.35), (2001.79, 93.47), (2001.87, 93.72), (2001.96, 93.60),
    (2002.05, 93.10), (2002.14, 92.60), (2002.22, 92.97), (2002.31, 93.23), (2002.40, 93.10),
    (2002.48, 92.97), (2002.57, 92.85), (2002.66, 91.61), (2002.75, 92.60), (2002.83, 92.48),
    (2002.92, 92.10), (2003.01, 92.60), (2003.09, 92.10), (2003.18, 92.35), (2003.27, 92.10),
    (2003.36, 91.86), (2003.44, 91.61), (2003.53, 91.36), (2003.62, 92.85), (2003.70, 93.10),
    (2003.79, 91.61), (2003.86, 90.86), (2003.92, 90.37), (2003.99, 91.61), (2004.07, 92.85),
    (2004.16, 93.84), (2004.25, 94.58), (2004.34, 95.21), (2004.42, 95.46), (2004.51, 95.08),
    (2004.60, 95.71), (2004.68, 96.33), (2004.77, 96.33), (2004.86, 96.57), (2004.95, 95.58),
    (2005.03, 94.96), (2005.12, 95.08), (2005.21, 94.71), (2005.29, 94.09), (2005.38, 94.34),
    (2005.47, 94.58), (2005.56, 94.09), (2005.64, 93.60), (2005.73, 92.85), (2005.82, 94.58),
    (2005.90, 95.95), (2005.99, 95.95), (2006.08, 96.57), (2006.17, 97.32), (2006.25, 97.57),
    (2006.34, 97.57), (2006.43, 97.57), (2006.51, 97.44), (2006.60, 97.69), (2006.69, 97.57),
    (2006.78, 97.57), (2006.86, 97.69), (2006.95, 97.82), (2007.02, 97.57), (2007.10, 97.94),
    (2007.19, 98.19), (2007.30, 98.44), (2007.41, 98.37), (2007.52, 98.56), (2007.63, 98.56),
    (2007.73, 98.62), (2007.84, 98.44), (2007.95, 98.56), (2008.06, 98.19), (2008.17, 98.00),
    (2008.28, 98.19), (2008.39, 98.44), (2008.50, 98.56), (2008.61, 98.68), (2008.71, 99.30),
    (2008.82, 99.37), (2008.93, 99.18), (2009.04, 99.30), (2009.15, 99.43), (2009.26, 99.55),
    (2009.37, 99.62), (2009.48, 99.68), (2009.59, 99.74), (2009.70, 99.80), (2009.80, 99.68),
    (2009.91, 99.68), (2010.02, 99.55), (2010.11, 98.93), (2010.20, 98.31), (2010.28, 98.06),
    (2010.37, 98.19), (2010.46, 97.94), (2010.54, 98.19), (2010.63, 98.06), (2010.72, 97.94),
    (2010.81, 98.06), (2010.89, 97.69), (2010.98, 97.32), (2011.07, 97.19), (2011.16, 97.82),
    (2011.24, 97.44), (2011.33, 96.33), (2011.42, 96.57), (2011.50, 96.20), (2011.59, 96.70),
    (2011.68, 96.57), (2011.77, 96.82), (2011.85, 96.95), (2011.94, 96.45), (2012.03, 96.57),
    (2012.11, 96.08), (2012.20, 95.33), (2012.29, 96.33), (2012.38, 96.33), (2012.46, 95.58),
    (2012.55, 95.83), (2012.64, 96.57), (2012.72, 96.45), (2012.81, 96.33), (2012.90, 96.82),
    (2012.99, 97.44), (2013.07, 97.82), (2013.16, 97.19), (2013.25, 96.57), (2013.33, 96.20),
    (2013.42, 95.71), (2013.51, 95.95), (2013.59, 96.33), (2013.68, 96.82), (2013.77, 97.32),
    (2013.86, 96.95), (2013.94, 96.57), (2014.03, 95.95), (2014.12, 95.71), (2014.21, 95.33),
    (2014.29, 95.83), (2014.38, 96.20), (2014.47, 96.08), (2014.55, 95.83), (2014.64, 95.58),
    (2014.73, 95.71), (2014.82, 95.21), (2014.90, 94.58), (2014.99, 93.47), (2015.08, 94.34),
    (2015.16, 93.97), (2015.25, 93.72), (2015.34, 93.84), (2015.43, 94.58), (2015.51, 95.33),
    (2015.60, 95.58), (2015.69, 95.46), (2015.77, 95.71), (2015.86, 95.58), (2015.95, 95.71),
    (2016.04, 96.08), (2016.12, 96.33), (2016.21, 96.20), (2016.30, 96.08), (2016.38, 96.08),
    (2016.47, 96.33), (2016.56, 96.57), (2016.65, 96.82), (2016.73, 97.07), (2016.82, 97.32),
    (2016.91, 97.57), (2016.99, 97.69), (2017.08, 97.82), (2017.17, 97.94), (2017.26, 97.82),
    (2017.34, 97.57), (2017.43, 97.32), (2017.52, 97.57), (2017.60, 97.82), (2017.69, 97.69),
    (2017.78, 97.94), (2017.87, 97.82), (2017.95, 97.88), (2018.04, 97.82), (2018.13, 97.75),
    (2018.21, 97.82), (2018.30, 97.94), (2018.39, 98.19), (2018.48, 98.31), (2018.56, 98.44),
    (2018.65, 98.50), (2018.74, 98.31), (2018.82, 98.19), (2018.91, 98.25), (2019.00, 98.19),
    (2019.09, 98.13), (2019.17, 98.19), (2019.26, 98.06), (2019.35, 97.94), (2019.43, 97.82),
    (2019.52, 98.19), (2019.61, 98.31), (2019.70, 98.37), (2019.78, 98.44), (2019.87, 98.50),
    (2019.96, 98.37),
]

labels = [r"Hermanus NM ($P_c$ = 4.44 GV)",
          r"Potchefstroom NM ($P_c$ = 6.98 GV)",
          r"Tsumeb NM ($P_c$ = 9.12 GV)"]

# solar-maximum periods (shaded) and reference levels
shaded_periods = [(1960, 1970), (1980, 1990.5), (2001, 2013)]
levels = [100, 98]
level_text = ["100% level", "98% level"]

# === Plot ===
fig = plt.figure(figsize=(10.52, 5.36), dpi=100)
ax = fig.add_axes([0.0589, 0.0672, 0.9392, 0.9198])

for start, end in shaded_periods:
    ax.axvspan(start, end, color="grey", alpha=0.25, lw=0)

for lev, txt in zip(levels, level_text):
    ax.axhline(lev, color="k", ls="--", lw=1.1, alpha=0.85)
    ax.text(1981, lev + 0.17, txt, fontsize=7.4, color="#333333", va="bottom")

t, v = np.array(hermanus).T
ax.plot(t, v, color="r", ls="-", lw=1.1, label=labels[0])
t, v = np.array(potchefstroom).T
ax.plot(t, v, color="b", ls="--", lw=1.2, label=labels[1])
t, v = np.array(tsumeb).T
ax.plot(t, v, color="g", ls="-.", lw=1.1, label=labels[2])

ax.set_xlim(1957.0, 2021.57)
ax.set_ylim(83.1, 101.45)
ax.set_xlabel("Time (years)", fontsize=8.8, labelpad=2)
ax.set_ylabel("NM count rate (normalized to 100% in March 1987)", fontsize=12.2, labelpad=3)
ax.tick_params(labelsize=7.3, length=2.6, width=0.6, pad=2.5)
for sp in ax.spines.values():
    sp.set_linewidth(0.6)

ax.legend(loc="lower left", fontsize=7.5, handlelength=2.0, labelspacing=0.22,
          borderpad=0.45, framealpha=0.8)

fig.savefig("out.png", dpi=100)
